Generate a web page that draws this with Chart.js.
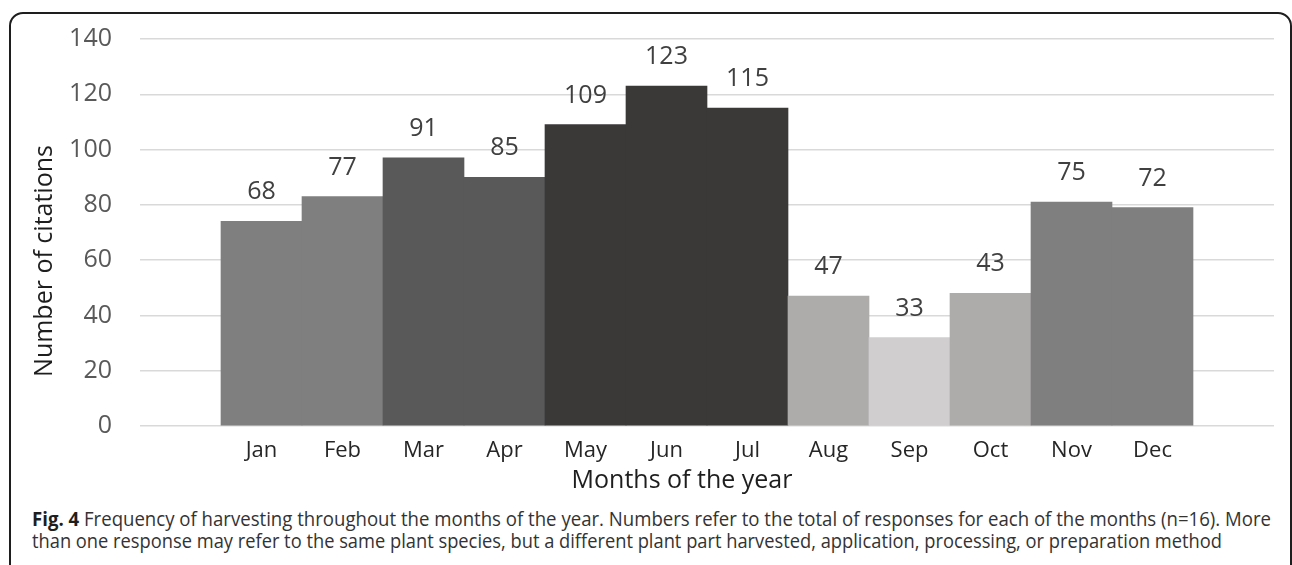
<!DOCTYPE html>
<html>
<head>
<meta charset="utf-8">
<script src="https://cdn.jsdelivr.net/npm/chart.js@4"></script>
<style>
  body { margin: 0; background: #fff; width: 1292px; height: 565px; overflow: hidden; position: relative; }
  #frame {
    position: absolute; left: 9px; top: 12px; width: 1283px; height: 600px;
    border: 2px solid #1e1e1e; border-radius: 14px; box-sizing: border-box;
  }
  #chart { position: absolute; left: 0; top: 0; }
  .cap {
    position: absolute; left: 32px; white-space: nowrap; width: max-content;
    font-family: "Open Sans", sans-serif; font-size: 20px; color: #333;
    transform-origin: 0 0;
  }
  .cap b { color: #1e1e1e; }
</style>
</head>
<body>
<div id="frame"></div>
<canvas id="chart" width="1292" height="500"></canvas>
<div class="cap" id="cap1"><b>Fig. 4</b> Frequency of harvesting throughout the months of the year. Numbers refer to the total of responses for each of the months (n=16). More</div>
<div class="cap" id="cap2">than one response may refer to the same plant species, but a different plant part harvested, application, processing, or preparation method</div>

<script>
// months and what the picture shows for them
const months = ["Jan", "Feb", "Mar", "Apr", "May", "Jun", "Jul", "Aug", "Sep", "Oct", "Nov", "Dec"];
// bar heights as drawn
const barHeights = [74, 83, 97, 90, 109, 123, 115, 47, 32, 48, 81, 79];
// numbers printed above the bars
const shownValues = [68, 77, 91, 85, 109, 123, 115, 47, 33, 43, 75, 72];
const yTicks = [0, 20, 40, 60, 80, 100, 120, 140];

const barColors = ["#7f7f7f", "#7f7f7f", "#595959", "#595959", "#3b3838", "#3b3838", "#3b3838",
                   "#aeabab", "#d0cece", "#aeabab", "#7f7f7f", "#7f7f7f"];

const FONT = '"Open Sans", sans-serif';

// empty slot either side of the months, like the original axis
const labels = [""].concat(months, [""]);
const values = [null].concat(barHeights, [null]);
const colors = ["rgba(0,0,0,0)"].concat(barColors, ["rgba(0,0,0,0)"]);

// value labels + axis titles
const extras = {
    id: "extras",
    afterDatasetsDraw(chart) {
        const ctx = chart.ctx;
        const meta = chart.getDatasetMeta(0);
        ctx.save();
        ctx.font = "25px " + FONT;
        ctx.fillStyle = "#404040";
        ctx.textAlign = "center";
        ctx.textBaseline = "alphabetic";
        for (let i = 0; i < months.length; i++) {
            const bar = meta.data[i + 1];
            ctx.fillText(String(shownValues[i]), bar.x, bar.y - 22);
        }
        ctx.restore();
    },
    afterDraw(chart) {
        const ctx = chart.ctx;
        ctx.save();
        ctx.fillStyle = "#1e1e1e";
        ctx.font = "25px " + FONT;
        ctx.textAlign = "center";
        ctx.textBaseline = "alphabetic";
        ctx.fillText("Months of the year", 682, 488);
        ctx.translate(52, 261);
        ctx.rotate(-Math.PI / 2);
        ctx.fillText("Number of citations", 0, 0);
        ctx.restore();
    }
};

// fixed axis boxes so the plot area lands where it is in the figure
function fixBox(s, size) {
    if (s.isHorizontal()) s.height = size; else s.width = size;
    s.paddingTop = 0;
    s.paddingBottom = 0;
    s.paddingLeft = 0;
    s.paddingRight = 0;
}

new Chart(document.getElementById("chart"), {
    type: "bar",
    data: {
        labels: labels,
        datasets: [{
            data: values,
            backgroundColor: colors,
            borderWidth: 0,
            barPercentage: 1,
            categoryPercentage: 1
        }]
    },
    options: {
        responsive: false,
        animation: false,
        layout: { padding: { top: 39, right: 18, left: 0, bottom: 0 } },
        plugins: { legend: { display: false }, tooltip: { enabled: false } },
        scales: {
            x: {
                grid: { display: false },
                border: { display: false },
                ticks: {
                    color: "#262626", font: { family: FONT, size: 22 },
                    padding: 4, maxRotation: 0, autoSkip: false
                },
                afterFit: s => fixBox(s, 74)
            },
            y: {
                min: 0, max: 140,
                afterBuildTicks: s => { s.ticks = yTicks.map(v => ({ value: v })); },
                grid: { color: "#d9d9d9", lineWidth: 1.5, drawTicks: false },
                border: { display: false },
                ticks: { color: "#595959", font: { family: FONT, size: 25 }, padding: 28 },
                afterFit: s => fixBox(s, 140)
            }
        }
    },
    plugins: [extras]
});

// squeeze each caption line to the width it takes in the figure
function fitLine(id, top, width) {
    const el = document.getElementById(id);
    el.style.top = top + "px";
    const k = width / el.getBoundingClientRect().width;
    el.style.transform = "scaleX(" + k + ")";
}
document.fonts.ready.then(() => {
    fitLine("cap1", 505, 1239);
    fitLine("cap2", 527, 1190);
});
</script>
</body>
</html>
